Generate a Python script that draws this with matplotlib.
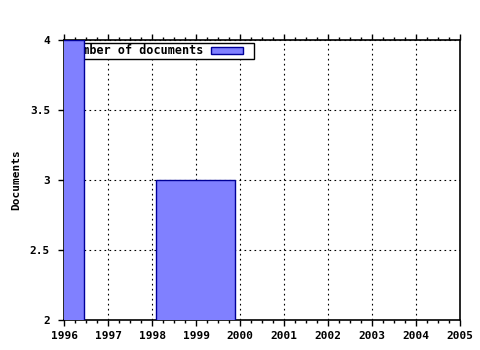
import matplotlib
matplotlib.use("Agg")
import matplotlib.pyplot as plt
from matplotlib.patches import Patch, Rectangle
from matplotlib.legend_handler import HandlerPatch
from matplotlib.ticker import MultipleLocator, FixedLocator

bar_left = [1995.55, 1998.09]
bar_width = [0.9, 1.8]
counts = [4, 3]
series_label = "Number of documents"
x_ticks = list(range(1996, 2006))
y_ticks = [2, 2.5, 3, 3.5, 4]
y_tick_labels = ["2", "2.5", "3", "3.5", "4"]

plt.rcParams['font.family'] = ['DejaVu Sans Mono']
plt.rcParams['font.weight'] = 'bold'
plt.rcParams['font.size'] = 8

fig = plt.figure(figsize=(4.8, 3.5), dpi=100)
ax = fig.add_axes([64/480, 30/350, 396/480, 280/350])

ax.bar(bar_left, counts, width=bar_width, align='edge', bottom=0,
       color='#8080ff', edgecolor='#000099', linewidth=1.0, zorder=3)

ax.set_xlim(1996, 2005)
ax.set_ylim(2, 4)
ax.xaxis.set_major_locator(FixedLocator(x_ticks))
ax.set_xticklabels([str(x) for x in x_ticks], fontweight='bold')
ax.xaxis.set_minor_locator(MultipleLocator(0.25))
ax.set_yticks(y_ticks)
ax.set_yticklabels(y_tick_labels, fontweight='bold')

ax.tick_params(axis='x', which='major', direction='out', length=4, width=1,
               top=True, bottom=True, pad=4)
ax.tick_params(axis='x', which='minor', direction='out', length=2, width=1,
               top=True, bottom=True)
ax.tick_params(axis='y', which='major', direction='out', length=4, width=1, pad=6)

ax.grid(True, which='major', color='black', linestyle=(0, (1.5, 3)), linewidth=0.8, zorder=0)
ax.set_axisbelow(True)
for s in ax.spines.values():
    s.set_linewidth(1.2)
    s.set_color('black')

ax.set_ylabel("Documents", fontweight='bold', labelpad=6)


def short_patch(legend, orig_handle, xdescent, ydescent, width, height, fontsize):
    return Rectangle((-xdescent, -ydescent), width - 7.2, height)


handle = Patch(facecolor='#8080ff', edgecolor='#000099', linewidth=1.0)
leg = ax.legend(handles=[handle], labels=[series_label], markerfirst=False,
                loc='upper left', bbox_to_anchor=(3/396, 1 - 3/280),
                fancybox=False, framealpha=1, edgecolor='black',
                borderpad=0.12, handlelength=3.55, handleheight=0.6,
                handletextpad=0.6, borderaxespad=0,
                handler_map={Patch: HandlerPatch(patch_func=short_patch)},
                prop={'family': 'DejaVu Sans Mono', 'weight': 'bold', 'size': 8.5})
leg.get_frame().set_linewidth(1.0)
leg.set_zorder(2)

fig.savefig("out.png", dpi=100)
